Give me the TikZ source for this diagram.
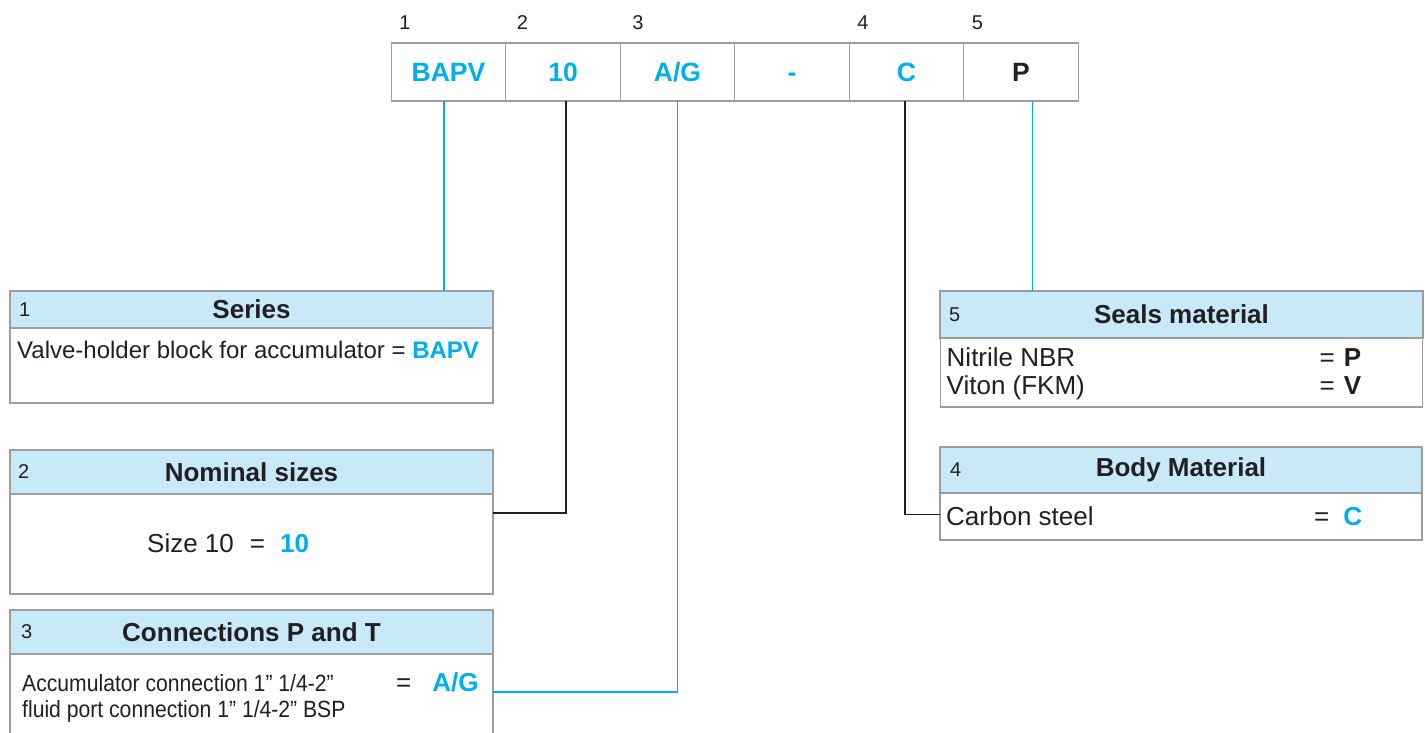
\documentclass[tikz,border=0pt]{standalone}
\usepackage{fontspec}
\setmainfont{Liberation Sans}
\newfontfamily\narrowfont[FakeStretch=0.9]{Liberation Sans}
\usetikzlibrary{positioning}

\definecolor{codecyan}{HTML}{00AEEF}
\definecolor{headblue}{HTML}{C7E9F8}
\definecolor{framegray}{HTML}{9D9D9D}
\definecolor{inkblack}{HTML}{231F20}
\newcommand{\fsz}[2]{\fontsize{#1}{#2}\selectfont}
\newcommand{\hl}[1]{\textcolor{codecyan}{\bfseries #1}}

\begin{document}
\begin{tikzpicture}[x=1pt,y=-1pt,
	cell/.style		=	{draw=framegray,line width=1.2pt,outer sep=0pt,inner sep=0pt,
							minimum width=114.5pt,minimum height=58pt,text height=19pt,text depth=0pt,
							font=\fsz{26.5}{30}\bfseries,text=codecyan},
	head/.style		=	{draw=framegray,fill=headblue,line width=1.4pt,outer sep=0pt,inner sep=0pt,
							minimum width=483pt,font=\fsz{26}{30}\bfseries,text=inkblack},
	panel/.style	=	{draw=framegray,line width=1.4pt,outer sep=0pt,inner sep=0pt,minimum width=483pt},
	digit/.style	=	{font=\fsz{20}{24},text=inkblack,inner sep=0pt},
	txt/.style		=	{font=\fsz{26}{30},text=inkblack,inner sep=0pt,anchor=base west},
	cyanline/.style	=	{draw=codecyan,line width=1.3pt},
	darkline/.style	=	{draw=inkblack,line width=1.1pt}]

	\useasboundingbox (0,0) rectangle (1425,732);

	% code row
	\node[cell] (bapv) at (448.5,72) {BAPV};
	\node[cell,right=0pt of bapv] (size) {10};
	\node[cell,right=0pt of size] (conn) {A/G};
	\node[cell,right=0pt of conn] (dash) {-};
	\node[cell,right=0pt of dash] (mat) {C};
	\node[cell,right=0pt of mat,text=inkblack] (seal) {P};

	\node[digit,anchor=base west] (n1) at ([xshift=8pt,yshift=14pt]bapv.north west) {1};
	\node[digit,anchor=base west] (n2) at ([xshift=11pt,yshift=14pt]size.north west) {2};
	\node[digit,anchor=base west] (n3) at ([xshift=12pt,yshift=14pt]conn.north west) {3};
	\node[digit,anchor=base west] (n4) at ([xshift=8pt,yshift=14pt]mat.north west) {4};
	\node[digit,anchor=base west] (n5) at ([xshift=8pt,yshift=14pt]seal.north west) {5};

	% left boxes
	\node[head,minimum height=37pt,anchor=north west] (seriesHead) at (10,291) {Series};
	\node[panel,minimum height=75pt,below=0pt of seriesHead] (seriesBody) {};
	\node[digit,anchor=west] at ([xshift=9pt]seriesHead.west) {1};
	\node[txt,font=\fsz{24}{28}] (seriesTxt) at ([xshift=7pt,yshift=-30pt]seriesBody.north west)
		{Valve-holder block for accumulator = \hl{BAPV}};

	\node[head,minimum height=44pt,anchor=north west] (sizeHead) at (10,450) {Nominal sizes};
	\node[panel,minimum height=100pt,below=0pt of sizeHead] (sizeBody) {};
	\node[digit,anchor=west] at ([xshift=8pt]sizeHead.west) {2};
	\node[txt] (sizeTxt) at ([xshift=137pt,yshift=-58pt]sizeBody.north west)
		{Size 10\hspace{16pt}=\hspace{15pt}\hl{10}};

	\node[head,minimum height=44pt,anchor=north west] (connHead) at (10,610) {Connections P and T};
	\node[panel,minimum height=100pt,below=0pt of connHead] (connBody) {};
	\node[digit,anchor=west] at ([xshift=11pt]connHead.west) {3};
	\node[txt,font=\fsz{23.5}{26}\narrowfont] (connTxtA) at ([xshift=12pt,yshift=-37pt]connBody.north west)
		{Accumulator connection 1” 1/4-2”};
	\node[txt,font=\fsz{23.5}{26}\narrowfont] (connTxtB) at ([xshift=12pt,yshift=-63pt]connBody.north west)
		{fluid port connection 1” 1/4-2” BSP};
	\node[txt] (connEq) at ([xshift=386pt,yshift=-37pt]connBody.north west) {=\hspace{21pt}\hl{A/G}};

	% right boxes
	\node[head,minimum height=47pt,anchor=north west] (sealHead) at (940,291) {Seals material};
	\node[panel,minimum height=69pt,below=0pt of sealHead,minimum width=482pt] (sealBody) {};
	\node[digit,anchor=west] at ([xshift=9pt]sealHead.west) {5};
	\node[txt] (sealTxtA) at ([xshift=6pt,yshift=-28pt]sealBody.north west) {Nitrile NBR};
	\node[txt] (sealTxtB) at ([xshift=6pt,yshift=-56pt]sealBody.north west) {Viton (FKM)};
	\node[txt] (sealEqA) at ([xshift=379pt,yshift=-28pt]sealBody.north west) {=\hspace{9pt}\textbf{P}};
	\node[txt] (sealEqB) at ([xshift=379pt,yshift=-56pt]sealBody.north west) {=\hspace{9pt}\textbf{V}};

	\node[head,minimum height=46pt,anchor=north west,minimum width=482pt] (matHead) at (940,447) {Body Material};
	\node[panel,minimum height=47pt,below=0pt of matHead,minimum width=482pt] (matBody) {};
	\node[digit,anchor=west] at ([xshift=10pt]matHead.west) {4};
	\node[txt] (matTxt) at ([xshift=6pt,yshift=-32pt]matBody.north west) {Carbon steel};
	\node[txt] (matEq) at ([xshift=374pt,yshift=-32pt]matBody.north west) {=\hspace{14pt}\hl{C}};

	% connectors
	\draw[cyanline] ([xshift=-4.5pt]bapv.south) -- ([xshift=-4.5pt]bapv.south |- seriesHead.north);
	\draw[darkline] ([xshift=3pt]size.south) |- ([yshift=31pt]sizeBody.east);
	\draw[cyanline] (conn.south) |- ([yshift=-38pt]connBody.north east);
	\draw[darkline] ([xshift=-1.5pt]mat.south) |- ([yshift=2pt]matBody.west);
	\draw[cyanline] ([xshift=11.5pt]seal.south) -- ([xshift=11.5pt]seal.south |- sealHead.north);
\end{tikzpicture}
\end{document}
